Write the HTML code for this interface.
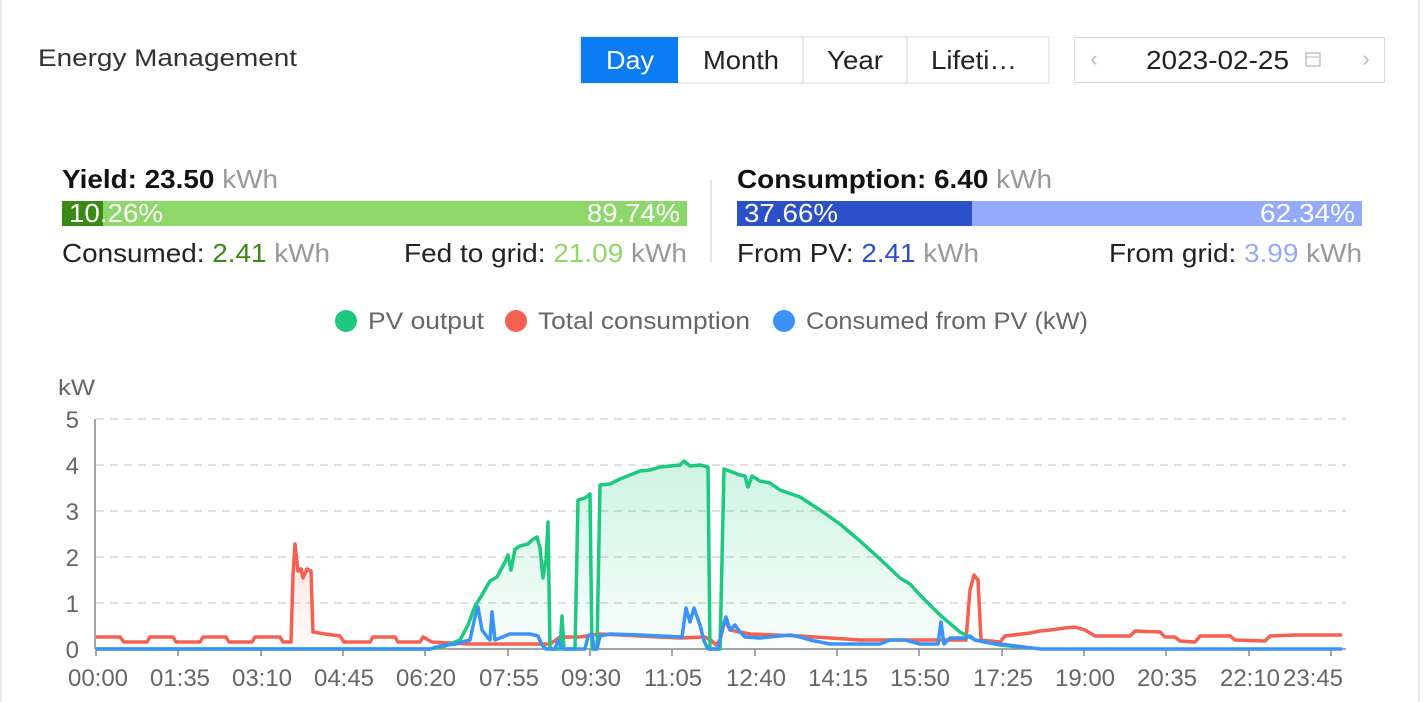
<!DOCTYPE html>
<html><head><meta charset="utf-8"><style>
html,body{margin:0;padding:0;background:#fff;width:1423px;height:702px;overflow:hidden}
svg{display:block;font-family:"Liberation Sans",sans-serif}
</style></head><body>
<svg width="1423" height="702" viewBox="0 0 1423 702" xmlns="http://www.w3.org/2000/svg">
<defs>
<linearGradient id="g" x1="0" y1="0" x2="0" y2="1"><stop offset="0" stop-color="#1dc97f" stop-opacity="0.22"/><stop offset="1" stop-color="#1dc97f" stop-opacity="0.02"/></linearGradient>
<linearGradient id="r" x1="0" y1="0" x2="0" y2="1"><stop offset="0" stop-color="#f56050" stop-opacity="0.18"/><stop offset="1" stop-color="#f56050" stop-opacity="0.02"/></linearGradient>
</defs>
<rect x="1" y="-10" width="1418" height="730" rx="12" fill="#fff" stroke="#e4e4e4" stroke-width="1.5"/>
<text x="38" y="66" font-size="24" fill="#333" textLength="259" lengthAdjust="spacingAndGlyphs">Energy Management</text>
<!-- buttons -->
<rect x="580" y="37" width="469" height="46" fill="#fff" stroke="#d9d9d9"/>
<rect x="581" y="37" width="97" height="46" fill="#0a7df5"/>
<line x1="803" y1="37" x2="803" y2="83" stroke="#d9d9d9"/>
<line x1="907" y1="37" x2="907" y2="83" stroke="#d9d9d9"/>
<text x="606" y="69" font-size="26" fill="#fff" textLength="48" lengthAdjust="spacingAndGlyphs">Day</text>
<text x="703" y="69" font-size="26" fill="#222" textLength="76" lengthAdjust="spacingAndGlyphs">Month</text>
<text x="827" y="69" font-size="26" fill="#222" textLength="56" lengthAdjust="spacingAndGlyphs">Year</text>
<text x="931" y="69" font-size="26" fill="#222" textLength="86" lengthAdjust="spacingAndGlyphs">Lifeti…</text>
<rect x="1074.5" y="37.5" width="310" height="45" fill="#fff" stroke="#d9d9d9"/>
<text x="1094" y="66" font-size="22" fill="#bbb" text-anchor="middle">‹</text>
<text x="1366" y="66" font-size="22" fill="#bbb" text-anchor="middle">›</text>
<text x="1146" y="69" font-size="26" fill="#222" textLength="143" lengthAdjust="spacingAndGlyphs">2023-02-25</text>
<rect x="1306" y="53" width="14" height="13" fill="none" stroke="#bbb" stroke-width="1.3"/><line x1="1306" y1="57" x2="1320" y2="57" stroke="#bbb"/>
<!-- stats left -->
<text x="62" y="188" font-size="26" fill="#111" textLength="216" lengthAdjust="spacingAndGlyphs"><tspan font-weight="bold">Yield: 23.50</tspan><tspan fill="#999"> kWh</tspan></text>
<rect x="62" y="201" width="625" height="25" fill="#8ed86b"/>
<rect x="62" y="201" width="41" height="25" fill="#3b8a14"/>
<text x="69" y="222" font-size="26" fill="#fff" textLength="94" lengthAdjust="spacingAndGlyphs">10.26%</text>
<text x="587" y="222" font-size="26" fill="#fff" textLength="93" lengthAdjust="spacingAndGlyphs">89.74%</text>
<text x="62" y="262" font-size="26" fill="#222" textLength="268" lengthAdjust="spacingAndGlyphs">Consumed: <tspan fill="#3b8a14">2.41</tspan><tspan fill="#999"> kWh</tspan></text>
<text x="404" y="262" font-size="26" fill="#222" textLength="283" lengthAdjust="spacingAndGlyphs">Fed to grid: <tspan fill="#8ed86b">21.09</tspan><tspan fill="#999"> kWh</tspan></text>
<line x1="711" y1="180" x2="711" y2="262" stroke="#ddd" stroke-width="1.5"/>
<!-- stats right -->
<text x="737" y="188" font-size="26" fill="#111" textLength="315" lengthAdjust="spacingAndGlyphs"><tspan font-weight="bold">Consumption: 6.40</tspan><tspan fill="#999"> kWh</tspan></text>
<rect x="737" y="201" width="625" height="25" fill="#94abfb"/>
<rect x="737" y="201" width="235" height="25" fill="#2b50c7"/>
<text x="744" y="222" font-size="26" fill="#fff" textLength="94" lengthAdjust="spacingAndGlyphs">37.66%</text>
<text x="1260" y="222" font-size="26" fill="#fff" textLength="95" lengthAdjust="spacingAndGlyphs">62.34%</text>
<text x="737" y="262" font-size="26" fill="#222" textLength="242" lengthAdjust="spacingAndGlyphs">From PV: <tspan fill="#2b50c7">2.41</tspan><tspan fill="#999"> kWh</tspan></text>
<text x="1109" y="262" font-size="26" fill="#222" textLength="253" lengthAdjust="spacingAndGlyphs">From grid: <tspan fill="#94abfb">3.99</tspan><tspan fill="#999"> kWh</tspan></text>
<!-- legend -->
<circle cx="346" cy="321" r="11" fill="#1dc97f"/>
<text x="368" y="329" font-size="24" fill="#666" textLength="116" lengthAdjust="spacingAndGlyphs">PV output</text>
<circle cx="516" cy="321" r="11" fill="#f56050"/>
<text x="538" y="329" font-size="24" fill="#666" textLength="212" lengthAdjust="spacingAndGlyphs">Total consumption</text>
<circle cx="784" cy="321" r="11" fill="#3a93f7"/>
<text x="806" y="329" font-size="24" fill="#666" textLength="282" lengthAdjust="spacingAndGlyphs">Consumed from PV (kW)</text>
<!-- axes -->
<text x="58" y="395" font-size="22" fill="#666" textLength="37" lengthAdjust="spacingAndGlyphs">kW</text>
<g stroke="#d6d6d6" stroke-width="1.5" stroke-dasharray="8,6">
<line x1="96" y1="419" x2="1346" y2="419"/><line x1="96" y1="465" x2="1346" y2="465"/>
<line x1="96" y1="511" x2="1346" y2="511"/><line x1="96" y1="557" x2="1346" y2="557"/>
<line x1="96" y1="603" x2="1346" y2="603"/></g>
<line x1="95" y1="419" x2="95" y2="649" stroke="#888" stroke-width="1.5"/>
<line x1="95" y1="649" x2="1346" y2="649" stroke="#888" stroke-width="1.5"/>
<g font-size="24" fill="#666" text-anchor="end">
<text x="79" y="428">5</text><text x="79" y="474">4</text><text x="79" y="520">3</text>
<text x="79" y="566">2</text><text x="79" y="612">1</text><text x="79" y="658">0</text></g>
<g stroke="#888" stroke-width="1.5">
<line x1="96" y1="649" x2="96" y2="656"/><line x1="178" y1="649" x2="178" y2="656"/><line x1="261" y1="649" x2="261" y2="656"/><line x1="343" y1="649" x2="343" y2="656"/><line x1="425" y1="649" x2="425" y2="656"/><line x1="508" y1="649" x2="508" y2="656"/><line x1="590" y1="649" x2="590" y2="656"/><line x1="672" y1="649" x2="672" y2="656"/><line x1="755" y1="649" x2="755" y2="656"/><line x1="837" y1="649" x2="837" y2="656"/><line x1="919" y1="649" x2="919" y2="656"/><line x1="1002" y1="649" x2="1002" y2="656"/><line x1="1084" y1="649" x2="1084" y2="656"/><line x1="1166" y1="649" x2="1166" y2="656"/><line x1="1249" y1="649" x2="1249" y2="656"/><line x1="1331" y1="649" x2="1331" y2="656"/></g>
<g font-size="24" fill="#666" text-anchor="middle">
<text x="98" y="686">00:00</text><text x="180" y="686">01:35</text><text x="262" y="686">03:10</text><text x="344" y="686">04:45</text><text x="426" y="686">06:20</text><text x="509" y="686">07:55</text><text x="591" y="686">09:30</text><text x="673" y="686">11:05</text><text x="756" y="686">12:40</text><text x="838" y="686">14:15</text><text x="920" y="686">15:50</text><text x="1003" y="686">17:25</text><text x="1085" y="686">19:00</text><text x="1167" y="686">20:35</text><text x="1250" y="686">22:10</text><text x="1313" y="686">23:45</text></g>
<!-- series -->
<path d="M430,649 L445,646 460,640 468,625 475,606 482,595 490,581 497,577 505,562 508,555 511,570 515,549 520,546 528,544 532,540 537,537 540,548 543,578 546,560 548,522 550,649 560,649 562,616 564,649 575,649 578,500 585,498 590,494 592,649 597,649 600,485 610,484 620,479 630,475 640,471 650,470 660,467 670,466 680,465 684,461 690,466 700,465 708,467 710,649 720,649 724,469 740,475 745,476 748,487 752,476 760,481 770,483 780,490 800,497 820,510 840,524 860,541 880,559 900,578 910,584 920,595 940,615 960,632 975,640 1000,645 1030,648 L1030,649 Z" fill="url(#g)"/>
<path d="M292,649 L295,544 298,571 303,569 308,571 312,634 L312,649 Z" fill="url(#r)"/>
<polyline fill="none" stroke="#f56050" stroke-width="3.5" stroke-linejoin="round" points="96,637 120,637 124,642 147,642 150,637 173,637 176,642 200,642 203,637 226,637 229,642 252,642 255,637 280,637 283,642 291,642 293,575 295,544 298,571 301,569 303,578 307,569 311,571 313,632 325,634 340,636 344,642 370,642 373,637 395,637 398,642 420,642 423,637 432,642 450,643 470,644 550,644 560,637 580,637 600,634 640,636 680,638 705,637 712,641 716,645 720,640 725,620 730,630 750,634 800,636 860,640 930,640 966,640 970,590 974,575 978,580 981,640 1000,642 1005,636 1030,633 1040,631 1050,630 1065,628 1075,627 1085,630 1095,636 1130,636 1135,631 1160,632 1165,637 1175,637 1180,641 1195,642 1200,636 1230,636 1235,640 1265,641 1270,636 1295,635 1320,635 1342,635"/>
<polyline fill="none" stroke="#1dc97f" stroke-width="3.5" stroke-linejoin="round" points="96,649 430,649 445,646 460,640 468,625 475,606 482,595 490,581 497,577 505,562 508,555 511,570 515,549 520,546 528,544 532,540 537,537 540,548 543,578 546,560 548,522 550,649 560,649 562,616 564,649 575,649 578,500 585,498 590,494 592,649 597,649 600,485 610,484 620,479 630,475 640,471 650,470 660,467 670,466 680,465 684,461 690,466 700,465 708,467 710,649 720,649 724,469 740,475 745,476 748,487 752,476 760,481 770,483 780,490 800,497 820,510 840,524 860,541 880,559 900,578 910,584 920,595 940,615 960,632 975,640 1000,645 1030,648"/>
<polyline fill="none" stroke="#3a93f7" stroke-width="3.5" stroke-linejoin="round" points="96,649 430,649 440,646 455,644 470,640 475,617 478,607 482,630 488,638 490,640 492,612 495,640 505,636 510,634 530,634 538,636 542,645 546,649 555,649 558,640 562,649 585,649 588,636 592,634 594,649 597,649 600,636 610,634 640,635 660,636 682,637 686,608 690,622 694,608 700,625 704,641 708,649 718,649 722,630 726,617 730,630 735,625 740,632 745,637 760,638 790,635 800,637 810,640 830,644 880,644 890,640 905,640 920,644 938,644 941,622 944,644 950,638 965,638 970,636 975,640 990,643 1000,644 1040,649 1342,649"/>
</svg>
</body></html>
